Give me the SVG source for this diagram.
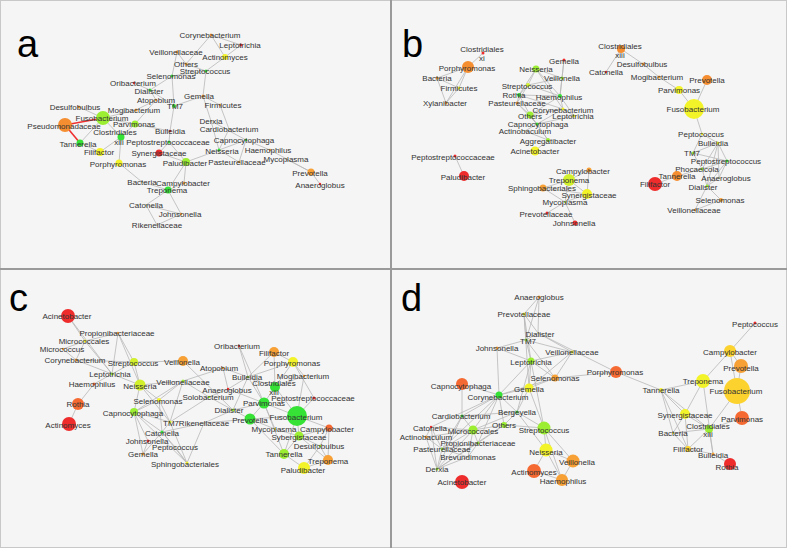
<svg xmlns="http://www.w3.org/2000/svg" width="787" height="548" viewBox="0 0 787 548">
<style>
text{font-family:"Liberation Sans",Arial,sans-serif;font-size:8px;fill:#333;text-anchor:middle}
text.L{font-size:38px;fill:#000;text-anchor:start}
.e line{stroke:#b8b8b8;stroke-width:0.8}
.e line.r{stroke:#ee3030;stroke-width:1.6}
.lm{fill:#9cee32}.gr{fill:#36e236}.yl{fill:#f3f32a}.yg{fill:#d2f02c}.gd{fill:#fcd22e}
.or{fill:#f7a036}.dor{fill:#f58e30}.orr{fill:#f56a32}.rd{fill:#ee2c2c}.gy{fill:#c8c8a0}
</style>
<rect x="0" y="0" width="787" height="548" fill="#f5f5f5"/>
<g id="frame" fill="none" stroke="#9a9a9a">
<rect x="0.5" y="0.5" width="786" height="547" stroke="#c8c8c8"/>
<line x1="391" y1="0" x2="391" y2="548" stroke-width="2"/>
<line x1="0" y1="269" x2="787" y2="269" stroke-width="2"/>
</g>
<g id="labels">
<text class="L" x="17" y="57">a</text>
<text class="L" x="402" y="57">b</text>
<text class="L" x="9" y="311">c</text>
<text class="L" x="401" y="311">d</text>
</g>
<g id="connectors" class="e">
<!-- panel a -->
<line x1="211" y1="35" x2="241" y2="45"/><line x1="211" y1="35" x2="225" y2="57"/><line x1="211" y1="35" x2="186" y2="64"/>
<line x1="241" y1="45" x2="225" y2="57"/><line x1="177" y1="52" x2="186" y2="64"/><line x1="177" y1="52" x2="172" y2="76"/>
<line x1="186" y1="64" x2="206" y2="71"/><line x1="225" y1="57" x2="206" y2="71"/><line x1="206" y1="71" x2="172" y2="76"/>
<line x1="172" y1="76" x2="150" y2="90"/><line x1="134" y1="83" x2="150" y2="90"/><line x1="150" y1="90" x2="156" y2="100"/>
<line x1="150" y1="90" x2="174" y2="106"/><line x1="172" y1="76" x2="174" y2="106"/><line x1="206" y1="71" x2="203" y2="96"/>
<line x1="203" y1="96" x2="174" y2="106"/><line x1="203" y1="96" x2="220" y2="105"/><line x1="203" y1="96" x2="211" y2="121"/>
<line x1="220" y1="105" x2="229" y2="129"/><line x1="211" y1="121" x2="246" y2="140"/><line x1="211" y1="121" x2="219" y2="150"/>
<line x1="229" y1="129" x2="219" y2="150"/><line x1="246" y1="140" x2="219" y2="150"/><line x1="246" y1="140" x2="270" y2="150"/>
<line x1="246" y1="140" x2="239" y2="162"/><line x1="219" y1="150" x2="239" y2="162"/><line x1="270" y1="150" x2="311" y2="172"/>
<line x1="286" y1="159" x2="311" y2="172"/><line x1="311" y1="172" x2="320" y2="184"/><line x1="174" y1="106" x2="170" y2="131"/>
<line x1="156" y1="100" x2="136" y2="110"/><line x1="136" y1="110" x2="103" y2="118"/><line x1="156" y1="100" x2="135" y2="124"/>
<line x1="79" y1="107" x2="103" y2="118"/><line x1="103" y1="118" x2="135" y2="124"/><line x1="103" y1="118" x2="121" y2="137"/>
<line x1="103" y1="118" x2="80" y2="143"/><line x1="135" y1="124" x2="121" y2="137"/><line x1="135" y1="124" x2="170" y2="131"/>
<line x1="121" y1="137" x2="100" y2="152"/><line x1="121" y1="137" x2="119" y2="163"/><line x1="80" y1="143" x2="100" y2="152"/>
<line x1="170" y1="131" x2="169" y2="142"/><line x1="169" y1="142" x2="159" y2="153"/><line x1="169" y1="142" x2="186" y2="162"/>
<line x1="159" y1="153" x2="186" y2="162"/><line x1="186" y1="162" x2="219" y2="150"/><line x1="186" y1="162" x2="184" y2="183"/>
<line x1="119" y1="163" x2="142" y2="182"/><line x1="142" y1="182" x2="168" y2="190"/><line x1="184" y1="183" x2="168" y2="190"/>
<line x1="186" y1="162" x2="168" y2="190"/><line x1="168" y1="190" x2="146" y2="205"/><line x1="168" y1="190" x2="181" y2="214"/>
<line x1="146" y1="205" x2="157" y2="225"/><line x1="181" y1="214" x2="157" y2="225"/><line x1="146" y1="205" x2="181" y2="214"/>
<line class="r" x1="65" y1="125" x2="103" y2="118"/><line class="r" x1="65" y1="125" x2="80" y2="143"/>
<!-- panel b -->
<line x1="468" y1="67" x2="483" y2="53"/><line x1="468" y1="67" x2="437" y2="78"/><line x1="468" y1="67" x2="459" y2="88"/>
<line x1="468" y1="67" x2="446" y2="103"/><line x1="437" y1="78" x2="459" y2="88"/><line x1="437" y1="78" x2="446" y2="103"/>
<line x1="459" y1="88" x2="446" y2="103"/>
<line x1="564" y1="60" x2="562" y2="78"/><line x1="564" y1="60" x2="560" y2="96"/><line x1="536" y1="69" x2="562" y2="78"/>
<line x1="536" y1="69" x2="528" y2="85"/><line x1="536" y1="69" x2="519" y2="95"/><line x1="536" y1="69" x2="560" y2="96"/>
<line x1="536" y1="69" x2="563" y2="109"/><line x1="562" y1="78" x2="528" y2="85"/><line x1="562" y1="78" x2="560" y2="96"/>
<line x1="528" y1="85" x2="519" y2="95"/><line x1="528" y1="85" x2="560" y2="96"/><line x1="528" y1="85" x2="517" y2="103"/>
<line x1="519" y1="95" x2="560" y2="96"/><line x1="519" y1="95" x2="517" y2="103"/><line x1="519" y1="95" x2="563" y2="109"/>
<line x1="519" y1="95" x2="530" y2="115"/><line x1="560" y1="96" x2="563" y2="109"/><line x1="560" y1="96" x2="574" y2="116"/>
<line x1="560" y1="96" x2="530" y2="115"/><line x1="517" y1="103" x2="530" y2="115"/><line x1="517" y1="103" x2="537" y2="124"/>
<line x1="563" y1="109" x2="530" y2="115"/><line x1="563" y1="109" x2="574" y2="116"/><line x1="563" y1="109" x2="537" y2="124"/>
<line x1="530" y1="115" x2="537" y2="124"/><line x1="530" y1="115" x2="548" y2="140"/><line x1="574" y1="116" x2="537" y2="124"/>
<line x1="537" y1="124" x2="525" y2="131"/><line x1="537" y1="124" x2="548" y2="140"/><line x1="525" y1="131" x2="548" y2="140"/>
<line x1="548" y1="140" x2="535" y2="151"/>
<line x1="455" y1="156" x2="464" y2="176"/>
<line x1="569" y1="180" x2="589" y2="170"/><line x1="569" y1="180" x2="543" y2="188"/><line x1="569" y1="180" x2="587" y2="194"/>
<line x1="569" y1="180" x2="565" y2="202"/><line x1="589" y1="170" x2="587" y2="194"/><line x1="543" y1="188" x2="587" y2="194"/>
<line x1="543" y1="188" x2="565" y2="202"/><line x1="587" y1="194" x2="565" y2="202"/><line x1="565" y1="202" x2="547" y2="213"/>
<line x1="565" y1="202" x2="575" y2="223"/>
<line x1="621" y1="49" x2="606" y2="72"/><line x1="621" y1="49" x2="643" y2="64"/><line x1="643" y1="64" x2="659" y2="77"/>
<line x1="659" y1="77" x2="679" y2="90"/><line x1="679" y1="90" x2="694" y2="109"/><line x1="707" y1="80" x2="694" y2="109"/>
<line x1="694" y1="109" x2="702" y2="134"/><line x1="702" y1="134" x2="693" y2="153"/><line x1="702" y1="134" x2="718" y2="143"/>
<line x1="718" y1="143" x2="693" y2="153"/><line x1="718" y1="143" x2="727" y2="161"/><line x1="718" y1="143" x2="702" y2="169"/>
<line x1="718" y1="143" x2="719" y2="178"/><line x1="718" y1="143" x2="707" y2="186"/><line x1="693" y1="153" x2="727" y2="161"/>
<line x1="693" y1="153" x2="702" y2="169"/><line x1="727" y1="161" x2="719" y2="178"/><line x1="727" y1="161" x2="707" y2="186"/>
<line x1="727" y1="161" x2="702" y2="169"/><line x1="702" y1="169" x2="677" y2="176"/><line x1="677" y1="176" x2="655" y2="184"/>
<line x1="702" y1="169" x2="707" y2="186"/><line x1="719" y1="178" x2="707" y2="186"/><line x1="707" y1="186" x2="721" y2="200"/>
<line x1="707" y1="186" x2="695" y2="210"/><line x1="721" y1="200" x2="695" y2="210"/>
<!-- panel c -->
<line x1="68" y1="316" x2="85" y2="341"/><line x1="68" y1="316" x2="112" y2="374"/><line x1="118" y1="333" x2="85" y2="341"/>
<line x1="118" y1="333" x2="134" y2="362"/><line x1="118" y1="333" x2="140" y2="385"/><line x1="118" y1="333" x2="112" y2="374"/>
<line x1="85" y1="341" x2="63" y2="349"/><line x1="85" y1="341" x2="76" y2="360"/><line x1="63" y1="349" x2="76" y2="360"/>
<line x1="85" y1="341" x2="112" y2="374"/><line x1="76" y1="360" x2="134" y2="362"/><line x1="76" y1="360" x2="112" y2="374"/>
<line x1="134" y1="362" x2="183" y2="361"/><line x1="134" y1="362" x2="112" y2="374"/><line x1="134" y1="362" x2="140" y2="385"/>
<line x1="112" y1="374" x2="140" y2="385"/><line x1="112" y1="374" x2="94" y2="384"/><line x1="94" y1="384" x2="78" y2="404"/>
<line x1="78" y1="404" x2="69" y2="424"/><line x1="140" y1="385" x2="183" y2="381"/><line x1="140" y1="385" x2="159" y2="400"/>
<line x1="140" y1="385" x2="134" y2="412"/><line x1="140" y1="385" x2="170" y2="422"/><line x1="183" y1="361" x2="233" y2="410"/>
<line x1="183" y1="381" x2="159" y2="400"/><line x1="183" y1="381" x2="134" y2="412"/><line x1="183" y1="381" x2="209" y2="397"/>
<line x1="183" y1="381" x2="170" y2="422"/><line x1="223" y1="368" x2="183" y2="381"/><line x1="223" y1="368" x2="228" y2="389"/>
<line x1="223" y1="368" x2="248" y2="377"/><line x1="159" y1="400" x2="134" y2="412"/><line x1="159" y1="400" x2="170" y2="422"/>
<line x1="159" y1="400" x2="162" y2="432"/><line x1="134" y1="412" x2="170" y2="422"/><line x1="134" y1="412" x2="162" y2="432"/>
<line x1="134" y1="412" x2="148" y2="441"/><line x1="134" y1="412" x2="143" y2="454"/><line x1="134" y1="412" x2="187" y2="463"/>
<line x1="170" y1="422" x2="162" y2="432"/><line x1="170" y1="422" x2="209" y2="397"/><line x1="170" y1="422" x2="187" y2="463"/>
<line x1="162" y1="432" x2="204" y2="423"/><line x1="162" y1="432" x2="175" y2="447"/><line x1="162" y1="432" x2="187" y2="463"/>
<line x1="162" y1="432" x2="143" y2="454"/><line x1="148" y1="441" x2="143" y2="454"/><line x1="175" y1="447" x2="187" y2="463"/>
<line x1="204" y1="423" x2="187" y2="463"/><line x1="204" y1="423" x2="233" y2="410"/><line x1="204" y1="423" x2="250" y2="419"/>
<line x1="209" y1="397" x2="228" y2="389"/><line x1="209" y1="397" x2="233" y2="410"/><line x1="228" y1="389" x2="248" y2="377"/>
<line x1="228" y1="389" x2="264" y2="403"/><line x1="239" y1="346" x2="248" y2="377"/><line x1="239" y1="346" x2="264" y2="403"/>
<line x1="248" y1="377" x2="275" y2="387"/><line x1="248" y1="377" x2="264" y2="403"/><line x1="248" y1="377" x2="293" y2="362"/>
<line x1="248" y1="377" x2="233" y2="410"/><line x1="274" y1="352" x2="293" y2="362"/><line x1="274" y1="352" x2="275" y2="387"/>
<line x1="274" y1="352" x2="248" y2="377"/><line x1="293" y1="362" x2="304" y2="376"/><line x1="293" y1="362" x2="275" y2="387"/>
<line x1="293" y1="362" x2="314" y2="398"/><line x1="275" y1="387" x2="304" y2="376"/><line x1="275" y1="387" x2="264" y2="403"/>
<line x1="275" y1="387" x2="297" y2="416"/><line x1="304" y1="376" x2="297" y2="416"/><line x1="233" y1="410" x2="264" y2="403"/>
<line x1="233" y1="410" x2="250" y2="419"/><line x1="264" y1="403" x2="297" y2="416"/><line x1="264" y1="403" x2="250" y2="419"/>
<line x1="264" y1="403" x2="275" y2="429"/><line x1="264" y1="403" x2="284" y2="454"/><line x1="250" y1="419" x2="297" y2="416"/>
<line x1="250" y1="419" x2="284" y2="454"/><line x1="250" y1="419" x2="275" y2="429"/><line x1="314" y1="398" x2="297" y2="416"/>
<line x1="297" y1="416" x2="329" y2="428"/><line x1="297" y1="416" x2="299" y2="436"/><line x1="297" y1="416" x2="284" y2="454"/>
<line x1="275" y1="429" x2="299" y2="436"/><line x1="299" y1="436" x2="329" y2="428"/><line x1="299" y1="436" x2="320" y2="446"/>
<line x1="299" y1="436" x2="284" y2="454"/><line x1="299" y1="436" x2="328" y2="460"/><line x1="329" y1="428" x2="320" y2="446"/>
<line x1="329" y1="428" x2="328" y2="460"/><line x1="320" y1="446" x2="328" y2="460"/><line x1="320" y1="446" x2="304" y2="468"/>
<line x1="284" y1="454" x2="304" y2="468"/><line x1="328" y1="460" x2="304" y2="468"/>
<!-- panel d -->
<line x1="539" y1="297" x2="524" y2="314"/><line x1="539" y1="297" x2="538" y2="333"/><line x1="539" y1="297" x2="526" y2="340"/>
<line x1="524" y1="314" x2="526" y2="340"/><line x1="524" y1="314" x2="531" y2="361"/><line x1="524" y1="314" x2="538" y2="333"/>
<line x1="524" y1="314" x2="529" y2="388"/><line x1="538" y1="333" x2="526" y2="340"/><line x1="538" y1="333" x2="572" y2="352"/>
<line x1="538" y1="333" x2="616" y2="372"/><line x1="526" y1="340" x2="497" y2="348"/><line x1="526" y1="340" x2="572" y2="352"/>
<line x1="526" y1="340" x2="531" y2="361"/><line x1="526" y1="340" x2="555" y2="378"/><line x1="497" y1="348" x2="531" y2="361"/>
<line x1="497" y1="348" x2="499" y2="395"/><line x1="572" y1="352" x2="531" y2="361"/><line x1="572" y1="352" x2="529" y2="388"/>
<line x1="572" y1="352" x2="555" y2="378"/><line x1="531" y1="361" x2="555" y2="378"/><line x1="531" y1="361" x2="499" y2="395"/>
<line x1="531" y1="361" x2="529" y2="388"/><line x1="531" y1="361" x2="517" y2="412"/><line x1="531" y1="361" x2="544" y2="428"/>
<line x1="555" y1="378" x2="529" y2="388"/><line x1="555" y1="378" x2="499" y2="395"/><line x1="555" y1="378" x2="616" y2="372"/>
<line x1="529" y1="388" x2="499" y2="395"/><line x1="529" y1="388" x2="544" y2="428"/><line x1="529" y1="388" x2="517" y2="412"/>
<line x1="462" y1="384" x2="499" y2="395"/><line x1="462" y1="384" x2="462" y2="416"/><line x1="499" y1="395" x2="517" y2="412"/>
<line x1="499" y1="395" x2="462" y2="416"/><line x1="499" y1="395" x2="473" y2="430"/><line x1="499" y1="395" x2="504" y2="425"/>
<line x1="499" y1="395" x2="431" y2="427"/><line x1="499" y1="395" x2="442" y2="449"/><line x1="499" y1="395" x2="478" y2="443"/>
<line x1="517" y1="412" x2="504" y2="425"/><line x1="517" y1="412" x2="544" y2="428"/><line x1="517" y1="412" x2="462" y2="416"/>
<line x1="517" y1="412" x2="473" y2="430"/><line x1="517" y1="412" x2="546" y2="450"/><line x1="504" y1="425" x2="473" y2="430"/>
<line x1="504" y1="425" x2="544" y2="428"/><line x1="504" y1="425" x2="478" y2="443"/><line x1="504" y1="425" x2="437" y2="469"/>
<line x1="462" y1="416" x2="473" y2="430"/><line x1="462" y1="416" x2="442" y2="449"/><line x1="462" y1="416" x2="437" y2="469"/>
<line x1="431" y1="427" x2="426" y2="437"/><line x1="431" y1="427" x2="473" y2="430"/><line x1="431" y1="427" x2="442" y2="449"/>
<line x1="431" y1="427" x2="437" y2="469"/><line x1="426" y1="437" x2="442" y2="449"/><line x1="426" y1="437" x2="437" y2="469"/>
<line x1="426" y1="437" x2="473" y2="430"/><line x1="473" y1="430" x2="478" y2="443"/><line x1="473" y1="430" x2="442" y2="449"/>
<line x1="473" y1="430" x2="468" y2="457"/><line x1="473" y1="430" x2="437" y2="469"/><line x1="478" y1="443" x2="442" y2="449"/>
<line x1="478" y1="443" x2="468" y2="457"/><line x1="478" y1="443" x2="437" y2="469"/><line x1="442" y1="449" x2="437" y2="469"/>
<line x1="442" y1="449" x2="468" y2="457"/><line x1="468" y1="457" x2="437" y2="469"/><line x1="544" y1="428" x2="546" y2="450"/>
<line x1="544" y1="428" x2="573" y2="461"/><line x1="544" y1="428" x2="562" y2="480"/><line x1="546" y1="450" x2="534" y2="471"/>
<line x1="546" y1="450" x2="573" y2="461"/><line x1="546" y1="450" x2="562" y2="480"/><line x1="534" y1="471" x2="562" y2="480"/>
<line x1="573" y1="461" x2="562" y2="480"/>
<line x1="616" y1="372" x2="661" y2="390"/><line x1="755" y1="323" x2="730" y2="351"/><line x1="730" y1="351" x2="703" y2="381"/>
<line x1="730" y1="351" x2="741" y2="366"/><line x1="730" y1="351" x2="737" y2="391"/><line x1="741" y1="366" x2="737" y2="391"/>
<line x1="703" y1="381" x2="661" y2="390"/><line x1="703" y1="381" x2="685" y2="414"/><line x1="703" y1="381" x2="713" y2="454"/>
<line x1="737" y1="391" x2="742" y2="418"/><line x1="737" y1="391" x2="709" y2="429"/><line x1="661" y1="390" x2="685" y2="414"/>
<line x1="661" y1="390" x2="709" y2="429"/><line x1="661" y1="390" x2="673" y2="433"/><line x1="661" y1="390" x2="688" y2="449"/>
<line x1="685" y1="414" x2="673" y2="433"/><line x1="685" y1="414" x2="709" y2="429"/><line x1="685" y1="414" x2="688" y2="449"/>
<line x1="709" y1="429" x2="673" y2="433"/><line x1="709" y1="429" x2="742" y2="418"/><line x1="709" y1="429" x2="688" y2="449"/>
<line x1="709" y1="429" x2="713" y2="454"/><line x1="688" y1="449" x2="713" y2="454"/><line x1="673" y1="433" x2="688" y2="449"/>
<line x1="713" y1="454" x2="730" y2="464"/>
</g>
<!-- panel a nodes -->
<g id="a-Corynebacterium"><circle cx="211" cy="35" r="1.5" class="or"/><text x="210" y="38">Corynebacterium</text></g>
<g id="a-Leptotrichia"><circle cx="241" cy="45" r="1.5" class="rd"/><text x="240" y="48">Leptotrichia</text></g>
<g id="a-Veillonellaceae"><circle cx="177" cy="52" r="1.5" class="or"/><text x="176" y="55">Veillonellaceae</text></g>
<g id="a-Actinomyces"><circle cx="225" cy="57" r="3" class="yl"/><text x="225" y="60">Actinomyces</text></g>
<g id="a-Others"><circle cx="186" cy="64" r="1.5" class="or"/><text x="186" y="67">Others</text></g>
<g id="a-Streptococcus"><circle cx="206" cy="71" r="1.5" class="gr"/><text x="205" y="74">Streptococcus</text></g>
<g id="a-Selenomonas"><circle cx="172" cy="76" r="1.5" class="gr"/><text x="171" y="79">Selenomonas</text></g>
<g id="a-Oribacterium"><circle cx="134" cy="83" r="1.2" class="rd"/><text x="133" y="86">Oribacterium</text></g>
<g id="a-Dialister"><circle cx="150" cy="90" r="1.5" class="gr"/><text x="149" y="94">Dialister</text></g>
<g id="a-Atopobium"><circle cx="156" cy="100" r="1.2" class="or"/><text x="156" y="103">Atopobium</text></g>
<g id="a-TM7"><circle cx="174" cy="106" r="2" class="gr"/><text x="175" y="109">TM7</text></g>
<g id="a-Gemella"><circle cx="203" cy="96" r="1.5" class="or"/><text x="199" y="99">Gemella</text></g>
<g id="a-Firmicutes"><circle cx="220" cy="105" r="1.2" class="or"/><text x="223" y="108">Firmicutes</text></g>
<g id="a-Desulfobulbus"><circle cx="79" cy="107" r="1.5" class="or"/><text x="75" y="110">Desulfobulbus</text></g>
<g id="a-Mogibacterium"><circle cx="136" cy="110" r="1.5" class="or"/><text x="134" y="113">Mogibacterium</text></g>
<g id="a-Fusobacterium"><circle cx="103" cy="118" r="7" class="lm"/><text x="102" y="121">Fusobacterium</text></g>
<g id="a-Pseudomonadaceae"><circle cx="65" cy="125" r="7" class="dor"/><text x="64" y="129">Pseudomonadaceae</text></g>
<g id="a-Parvimonas"><circle cx="135" cy="124" r="3.5" class="lm"/><text x="134" y="127">Parvimonas</text></g>
<g id="a-Derxia"><circle cx="211" cy="121" r="1" class="gy"/><text x="211" y="124">Derxia</text></g>
<g id="a-Cardiobacterium"><circle cx="229" cy="129" r="1" class="gy"/><text x="229" y="132">Cardiobacterium</text></g>
<g id="a-Bulleidia"><circle cx="170" cy="131" r="1.2" class="rd"/><text x="170" y="134">Bulleidia</text></g>
<g id="a-Clostridiales-xiii"><circle cx="121" cy="137" r="3.5" class="gr"/><text x="115" y="135">Clostridiales</text><text x="119" y="145">xiii</text></g>
<g id="a-Tannerella"><circle cx="80" cy="143" r="3.5" class="gr"/><text x="78" y="147">Tannerella</text></g>
<g id="a-Filifactor"><circle cx="100" cy="152" r="4" class="yl"/><text x="99" y="155">Filifactor</text></g>
<g id="a-Porphyromonas"><circle cx="119" cy="163" r="3.5" class="yl"/><text x="118" y="167">Porphyromonas</text></g>
<g id="a-Peptostreptococcaceae"><circle cx="169" cy="142" r="1.5" class="gr"/><text x="168" y="145">Peptostreptococcaceae</text></g>
<g id="a-Synergistaceae"><circle cx="159" cy="153" r="3.5" class="rd"/><text x="159" y="156">Synergistaceae</text></g>
<g id="a-Paludibacter"><circle cx="186" cy="162" r="4" class="lm"/><text x="185" y="166">Paludibacter</text></g>
<g id="a-Capnocytophaga"><circle cx="246" cy="140" r="1.2" class="gr"/><text x="244" y="143">Capnocytophaga</text></g>
<g id="a-Neisseria"><circle cx="219" cy="150" r="1.5" class="gr"/><text x="222" y="154">Neisseria</text></g>
<g id="a-Haemophilus"><circle cx="270" cy="150" r="1.2" class="or"/><text x="268" y="153">Haemophilus</text></g>
<g id="a-Pasteurellaceae"><circle cx="239" cy="162" r="1.2" class="or"/><text x="237" y="165">Pasteurellaceae</text></g>
<g id="a-Mycoplasma"><circle cx="286" cy="159" r="1" class="gy"/><text x="286" y="162">Mycoplasma</text></g>
<g id="a-Prevotella"><circle cx="311" cy="172" r="3.5" class="or"/><text x="310" y="176">Prevotella</text></g>
<g id="a-Anaeroglobus"><circle cx="320" cy="184" r="1.2" class="rd"/><text x="320" y="188">Anaeroglobus</text></g>
<g id="a-Bacteria"><circle cx="142" cy="182" r="1" class="gy"/><text x="142" y="185">Bacteria</text></g>
<g id="a-Campylobacter"><circle cx="184" cy="183" r="1.5" class="or"/><text x="183" y="186">Campylobacter</text></g>
<g id="a-Treponema"><circle cx="168" cy="190" r="3.5" class="gr"/><text x="167" y="193">Treponema</text></g>
<g id="a-Catonella"><circle cx="146" cy="205" r="1" class="gy"/><text x="146" y="208">Catonella</text></g>
<g id="a-Johnsonella"><circle cx="181" cy="214" r="1.2" class="or"/><text x="180" y="217">Johnsonella</text></g>
<g id="a-Rikenellaceae"><circle cx="157" cy="225" r="1" class="gy"/><text x="157" y="228">Rikenellaceae</text></g>
<!-- panel b nodes -->
<g id="b-Clostridiales-xi"><circle cx="483" cy="53" r="1.5" class="rd"/><text x="482" y="52">Clostridiales</text><text x="482" y="61">xi</text></g>
<g id="b-Porphyromonas"><circle cx="468" cy="67" r="6" class="dor"/><text x="467" y="71">Porphyromonas</text></g>
<g id="b-Bacteria"><circle cx="437" cy="78" r="1.5" class="or"/><text x="437" y="81">Bacteria</text></g>
<g id="b-Firmicutes"><circle cx="459" cy="88" r="1.5" class="yl"/><text x="459" y="91">Firmicutes</text></g>
<g id="b-Xylanibacter"><circle cx="446" cy="103" r="1.5" class="or"/><text x="445" y="106">Xylanibacter</text></g>
<g id="b-Gemella"><circle cx="564" cy="60" r="1.5" class="rd"/><text x="564" y="64">Gemella</text></g>
<g id="b-Neisseria"><circle cx="536" cy="69" r="3.5" class="lm"/><text x="536" y="72">Neisseria</text></g>
<g id="b-Veillonella"><circle cx="562" cy="78" r="1.5" class="lm"/><text x="562" y="81">Veillonella</text></g>
<g id="b-Streptococcus"><circle cx="528" cy="85" r="2" class="yg"/><text x="527" y="89">Streptococcus</text></g>
<g id="b-Rothia"><circle cx="519" cy="95" r="2" class="gr"/><text x="514" y="98">Rothia</text></g>
<g id="b-Haemophilus"><circle cx="560" cy="96" r="2" class="gr"/><text x="559" y="100">Haemophilus</text></g>
<g id="b-Pasteurellaceae"><circle cx="517" cy="103" r="1.5" class="or"/><text x="517" y="106">Pasteurellaceae</text></g>
<g id="b-Corynebacterium"><circle cx="563" cy="109" r="1.5" class="yl"/><text x="563" y="113">Corynebacterium</text></g>
<g id="b-Others"><circle cx="530" cy="115" r="3.5" class="lm"/><text x="530" y="119">Others</text></g>
<g id="b-Leptotrichia"><circle cx="574" cy="116" r="1.5" class="yl"/><text x="573" y="119">Leptotrichia</text></g>
<g id="b-Capnocytophaga"><circle cx="537" cy="124" r="1.5" class="gr"/><text x="538" y="127">Capnocytophaga</text></g>
<g id="b-Actinobaculum"><circle cx="525" cy="131" r="1" class="gy"/><text x="525" y="134">Actinobaculum</text></g>
<g id="b-Aggregatibacter"><circle cx="548" cy="140" r="2" class="lm"/><text x="548" y="144">Aggregatibacter</text></g>
<g id="b-Acinetobacter"><circle cx="535" cy="151" r="4.5" class="yl"/><text x="535" y="154">Acinetobacter</text></g>
<g id="b-Clostridiales-xiii"><circle cx="621" cy="49" r="4" class="dor"/><text x="620" y="49">Clostridiales</text><text x="620" y="58">xiii</text></g>
<g id="b-Catonella"><circle cx="606" cy="72" r="1.2" class="rd"/><text x="606" y="75">Catonella</text></g>
<g id="b-Desulfobulbus"><circle cx="643" cy="64" r="1.5" class="or"/><text x="642" y="67">Desulfobulbus</text></g>
<g id="b-Mogibacterium"><circle cx="659" cy="77" r="1.5" class="or"/><text x="657" y="80">Mogibacterium</text></g>
<g id="b-Prevotella"><circle cx="707" cy="80" r="5" class="dor"/><text x="707" y="83">Prevotella</text></g>
<g id="b-Parvimonas"><circle cx="679" cy="90" r="4" class="yl"/><text x="679" y="93">Parvimonas</text></g>
<g id="b-Fusobacterium"><circle cx="694" cy="109" r="10" class="yl"/><text x="693" y="112">Fusobacterium</text></g>
<g id="b-Peptococcus"><circle cx="702" cy="134" r="1.2" class="yl"/><text x="701" y="137">Peptococcus</text></g>
<g id="b-Bulleidia"><circle cx="718" cy="143" r="1.5" class="yl"/><text x="713" y="146">Bulleidia</text></g>
<g id="b-TM7"><circle cx="693" cy="153" r="1.5" class="lm"/><text x="692" y="156">TM7</text></g>
<g id="b-Peptostreptococcus"><circle cx="727" cy="161" r="1.5" class="gr"/><text x="726" y="164">Peptostreptococcus</text></g>
<g id="b-Phocaeicola"><circle cx="702" cy="169" r="1.5" class="lm"/><text x="697" y="172">Phocaeicola</text></g>
<g id="b-Anaeroglobus"><circle cx="719" cy="178" r="1.2" class="gy"/><text x="726" y="181">Anaeroglobus</text></g>
<g id="b-Tannerella"><circle cx="677" cy="176" r="5" class="dor"/><text x="677" y="179">Tannerella</text></g>
<g id="b-Filifactor"><circle cx="655" cy="184" r="7" class="rd"/><text x="655" y="187">Filifactor</text></g>
<g id="b-Dialister"><circle cx="707" cy="186" r="1.5" class="lm"/><text x="703" y="190">Dialister</text></g>
<g id="b-Selenomonas"><circle cx="721" cy="200" r="2" class="or"/><text x="720" y="203">Selenomonas</text></g>
<g id="b-Veillonellaceae"><circle cx="695" cy="210" r="1.2" class="or"/><text x="694" y="213">Veillonellaceae</text></g>
<g id="b-Peptostreptococcaceae"><circle cx="455" cy="156" r="1.5" class="rd"/><text x="453" y="160">Peptostreptococcaceae</text></g>
<g id="b-Paludibacter"><circle cx="464" cy="176" r="5" class="rd"/><text x="463" y="180">Paludibacter</text></g>
<g id="b-Campylobacter"><circle cx="589" cy="170" r="2.5" class="or"/><text x="583" y="174">Campylobacter</text></g>
<g id="b-Treponema"><circle cx="569" cy="180" r="6" class="yg"/><text x="569" y="183">Treponema</text></g>
<g id="b-Sphingobacteriales"><circle cx="543" cy="188" r="3.5" class="or"/><text x="542" y="191">Sphingobacteriales</text></g>
<g id="b-Synergistaceae"><circle cx="587" cy="194" r="5" class="yl"/><text x="589" y="198">Synergistaceae</text></g>
<g id="b-Mycoplasma"><circle cx="565" cy="202" r="1" class="lm"/><text x="565" y="205">Mycoplasma</text></g>
<g id="b-Prevotellaceae"><circle cx="547" cy="213" r="1.5" class="rd"/><text x="546" y="217">Prevotellaceae</text></g>
<g id="b-Johnsonella"><circle cx="575" cy="223" r="2.5" class="rd"/><text x="574" y="226">Johnsonella</text></g>
<!-- panel c nodes -->
<g id="c-Acinetobacter"><circle cx="68" cy="316" r="7" class="rd"/><text x="67" y="319">Acinetobacter</text></g>
<g id="c-Propionibacteriaceae"><circle cx="118" cy="333" r="1.2" class="or"/><text x="117" y="336">Propionibacteriaceae</text></g>
<g id="c-Micrococcales"><circle cx="85" cy="341" r="1.5" class="yl"/><text x="84" y="344">Micrococcales</text></g>
<g id="c-Micrococcus"><circle cx="63" cy="349" r="1.2" class="or"/><text x="62" y="352">Micrococcus</text></g>
<g id="c-Corynebacterium"><circle cx="76" cy="360" r="1.5" class="or"/><text x="75" y="363">Corynebacterium</text></g>
<g id="c-Streptococcus"><circle cx="134" cy="362" r="4" class="yg"/><text x="133" y="366">Streptococcus</text></g>
<g id="c-Veillonella"><circle cx="183" cy="361" r="5" class="or"/><text x="182" y="365">Veillonella</text></g>
<g id="c-Leptotrichia"><circle cx="112" cy="374" r="1.5" class="lm"/><text x="110" y="377">Leptotrichia</text></g>
<g id="c-Haemophilus"><circle cx="94" cy="384" r="1.5" class="orr"/><text x="92" y="387">Haemophilus</text></g>
<g id="c-Neisseria"><circle cx="140" cy="385" r="5.5" class="yg"/><text x="140" y="389">Neisseria</text></g>
<g id="c-Veillonellaceae"><circle cx="183" cy="381" r="1.5" class="lm"/><text x="183" y="385">Veillonellaceae</text></g>
<g id="c-Rothia"><circle cx="78" cy="404" r="6" class="orr"/><text x="78" y="407">Rothia</text></g>
<g id="c-Selenomonas"><circle cx="159" cy="400" r="2" class="yl"/><text x="158" y="404">Selenomonas</text></g>
<g id="c-Solobacterium"><circle cx="209" cy="397" r="1.2" class="lm"/><text x="208" y="400">Solobacterium</text></g>
<g id="c-Capnocytophaga"><circle cx="134" cy="412" r="4" class="lm"/><text x="133" y="416">Capnocytophaga</text></g>
<g id="c-Actinomyces"><circle cx="69" cy="424" r="7" class="rd"/><text x="68" y="428">Actinomyces</text></g>
<g id="c-TM7"><circle cx="170" cy="422" r="1.5" class="yl"/><text x="171" y="426">TM7</text></g>
<g id="c-Rikenellaceae"><circle cx="204" cy="423" r="1" class="gy"/><text x="204" y="426">Rikenellaceae</text></g>
<g id="c-Catonella"><circle cx="162" cy="432" r="1.5" class="gr"/><text x="162" y="436">Catonella</text></g>
<g id="c-Johnsonella"><circle cx="148" cy="441" r="1.5" class="rd"/><text x="147" y="444">Johnsonella</text></g>
<g id="c-Peptococcus"><circle cx="175" cy="447" r="1" class="gy"/><text x="175" y="450">Peptococcus</text></g>
<g id="c-Gemella"><circle cx="143" cy="454" r="1.5" class="or"/><text x="143" y="457">Gemella</text></g>
<g id="c-Sphingobacteriales"><circle cx="187" cy="463" r="1.5" class="yl"/><text x="185" y="467">Sphingobacteriales</text></g>
<g id="c-Oribacterium"><circle cx="239" cy="346" r="1.2" class="rd"/><text x="237" y="349">Oribacterium</text></g>
<g id="c-Filifactor"><circle cx="274" cy="352" r="5" class="or"/><text x="274" y="356">Filifactor</text></g>
<g id="c-Porphyromonas"><circle cx="293" cy="362" r="5" class="yl"/><text x="292" y="366">Porphyromonas</text></g>
<g id="c-Atopobium"><circle cx="223" cy="368" r="1.2" class="or"/><text x="219" y="371">Atopobium</text></g>
<g id="c-Mogibacterium"><circle cx="304" cy="376" r="1.2" class="or"/><text x="303" y="379">Mogibacterium</text></g>
<g id="c-Bulleidia"><circle cx="248" cy="377" r="1.2" class="lm"/><text x="247" y="380">Bulleidia</text></g>
<g id="c-Clostridiales-xiii"><circle cx="275" cy="387" r="5" class="gr"/><text x="274" y="386">Clostridiales</text><text x="274" y="395">xiii</text></g>
<g id="c-Anaeroglobus"><circle cx="228" cy="389" r="1.2" class="rd"/><text x="227" y="393">Anaeroglobus</text></g>
<g id="c-Peptostreptococcaceae"><circle cx="314" cy="398" r="1.5" class="rd"/><text x="313" y="401">Peptostreptococcaceae</text></g>
<g id="c-Parvimonas"><circle cx="264" cy="403" r="5.5" class="gr"/><text x="264" y="406">Parvimonas</text></g>
<g id="c-Dialister"><circle cx="233" cy="410" r="1.5" class="lm"/><text x="229" y="413">Dialister</text></g>
<g id="c-Fusobacterium"><circle cx="297" cy="416" r="10" class="gr"/><text x="296" y="420">Fusobacterium</text></g>
<g id="c-Prevotella"><circle cx="250" cy="419" r="5.5" class="gr"/><text x="250" y="423">Prevotella</text></g>
<g id="c-Campylobacter"><circle cx="329" cy="428" r="3.5" class="orr"/><text x="327" y="432">Campylobacter</text></g>
<g id="c-Mycoplasma"><circle cx="275" cy="429" r="1" class="yl"/><text x="274" y="432">Mycoplasma</text></g>
<g id="c-Sybergistaceae"><circle cx="299" cy="436" r="4.5" class="lm"/><text x="299" y="440">Sybergistaceae</text></g>
<g id="c-Desulfobulbus"><circle cx="320" cy="446" r="1.2" class="lm"/><text x="319" y="449">Desulfobulbus</text></g>
<g id="c-Tannerella"><circle cx="284" cy="454" r="5" class="lm"/><text x="284" y="457">Tannerella</text></g>
<g id="c-Treponema"><circle cx="328" cy="460" r="5" class="or"/><text x="328" y="464">Treponema</text></g>
<g id="c-Paludibacter"><circle cx="304" cy="468" r="6" class="yl"/><text x="303" y="473">Paludibacter</text></g>
<!-- panel d nodes -->
<g id="d-Anaeroglobus"><circle cx="539" cy="297" r="1.5" class="or"/><text x="539" y="300">Anaeroglobus</text></g>
<g id="d-Prevotellaceae"><circle cx="524" cy="314" r="1.5" class="yl"/><text x="524" y="317">Prevotellaceae</text></g>
<g id="d-Dialister"><circle cx="538" cy="333" r="1" class="gy"/><text x="540" y="337">Dialister</text></g>
<g id="d-TM7"><circle cx="526" cy="340" r="1.5" class="lm"/><text x="528" y="344">TM7</text></g>
<g id="d-Johnsonella"><circle cx="497" cy="348" r="1.5" class="or"/><text x="497" y="351">Johnsonella</text></g>
<g id="d-Veillonellaceae"><circle cx="572" cy="352" r="1.5" class="yl"/><text x="572" y="355">Veillonellaceae</text></g>
<g id="d-Leptotrichia"><circle cx="531" cy="361" r="3.5" class="lm"/><text x="531" y="365">Leptotrichia</text></g>
<g id="d-Selenomonas"><circle cx="555" cy="378" r="3.5" class="or"/><text x="555" y="381">Selenomonas</text></g>
<g id="d-Porphyromonas"><circle cx="616" cy="372" r="6" class="orr"/><text x="615" y="375">Porphyromonas</text></g>
<g id="d-Capnocytophaga"><circle cx="462" cy="384" r="6" class="orr"/><text x="461" y="389">Capnocytophaga</text></g>
<g id="d-Gemella"><circle cx="529" cy="388" r="4.5" class="yl"/><text x="529" y="392">Gemella</text></g>
<g id="d-Corynebacterium"><circle cx="499" cy="395" r="3.5" class="gr"/><text x="498" y="400">Corynebacterium</text></g>
<g id="d-Bergeyella"><circle cx="517" cy="412" r="1.5" class="gr"/><text x="517" y="415">Bergeyella</text></g>
<g id="d-Cardiobacterium"><circle cx="462" cy="416" r="1.5" class="gr"/><text x="461" y="419">Cardiobacterium</text></g>
<g id="d-Others"><circle cx="504" cy="425" r="3" class="lm"/><text x="504" y="428">Others</text></g>
<g id="d-Catonella"><circle cx="431" cy="427" r="1.2" class="rd"/><text x="430" y="431">Catonella</text></g>
<g id="d-Micrococcales"><circle cx="473" cy="430" r="4.5" class="lm"/><text x="473" y="434">Micrococcales</text></g>
<g id="d-Streptococcus"><circle cx="544" cy="428" r="6.5" class="lm"/><text x="544" y="433">Streptococcus</text></g>
<g id="d-Actinobaculum"><circle cx="426" cy="437" r="1.5" class="or"/><text x="426" y="440">Actinobaculum</text></g>
<g id="d-Propionibacteriaceae"><circle cx="478" cy="443" r="1.5" class="lm"/><text x="478" y="446">Propionibacteriaceae</text></g>
<g id="d-Pasteurellaceae"><circle cx="442" cy="449" r="1.5" class="lm"/><text x="442" y="452">Pasteurellaceae</text></g>
<g id="d-Neisseria"><circle cx="546" cy="450" r="6.5" class="yl"/><text x="546" y="455">Neisseria</text></g>
<g id="d-Brevundimonas"><circle cx="468" cy="457" r="1" class="gy"/><text x="468" y="460">Brevundimonas</text></g>
<g id="d-Veillonella"><circle cx="573" cy="461" r="6.5" class="or"/><text x="577" y="465">Veillonella</text></g>
<g id="d-Derxia"><circle cx="437" cy="469" r="1.5" class="lm"/><text x="437" y="472">Derxia</text></g>
<g id="d-Acinetobacter"><circle cx="462" cy="482" r="7" class="rd"/><text x="462" y="485">Acinetobacter</text></g>
<g id="d-Actinomyces"><circle cx="534" cy="471" r="7" class="orr"/><text x="534" y="475">Actinomyces</text></g>
<g id="d-Haemophilus"><circle cx="562" cy="480" r="6" class="or"/><text x="563" y="484">Haemophilus</text></g>
<g id="d-Peptococcus"><circle cx="755" cy="323" r="1.5" class="rd"/><text x="755" y="327">Peptococcus</text></g>
<g id="d-Campylobacter"><circle cx="730" cy="351" r="6" class="gd"/><text x="730" y="355">Campylobacter</text></g>
<g id="d-Prevotella"><circle cx="741" cy="366" r="7" class="or"/><text x="741" y="371">Prevotella</text></g>
<g id="d-Treponema"><circle cx="703" cy="381" r="7" class="yl"/><text x="703" y="384">Treponema</text></g>
<g id="d-Fusobacterium"><circle cx="737" cy="391" r="13" class="gd"/><text x="736" y="394">Fusobacterium</text></g>
<g id="d-Tannerella"><circle cx="661" cy="390" r="2" class="yl"/><text x="661" y="393">Tannerella</text></g>
<g id="d-Synergistaceae"><circle cx="685" cy="414" r="5" class="yl"/><text x="685" y="418">Synergistaceae</text></g>
<g id="d-Parvimonas"><circle cx="742" cy="418" r="7" class="orr"/><text x="742" y="422">Parvimonas</text></g>
<g id="d-Clostridiales-xiii"><circle cx="709" cy="429" r="4" class="lm"/><text x="708" y="429">Clostridiales</text><text x="708" y="437">xiii</text></g>
<g id="d-Bacteria"><circle cx="673" cy="433" r="1" class="yl"/><text x="673" y="436">Bacteria</text></g>
<g id="d-Filifactor"><circle cx="688" cy="449" r="3" class="gd"/><text x="688" y="452">Filifactor</text></g>
<g id="d-Bulleidia"><circle cx="713" cy="454" r="1.5" class="or"/><text x="713" y="458">Bulleidia</text></g>
<g id="d-Rothia"><circle cx="730" cy="464" r="6" class="rd"/><text x="727" y="470">Rothia</text></g>
</svg>
